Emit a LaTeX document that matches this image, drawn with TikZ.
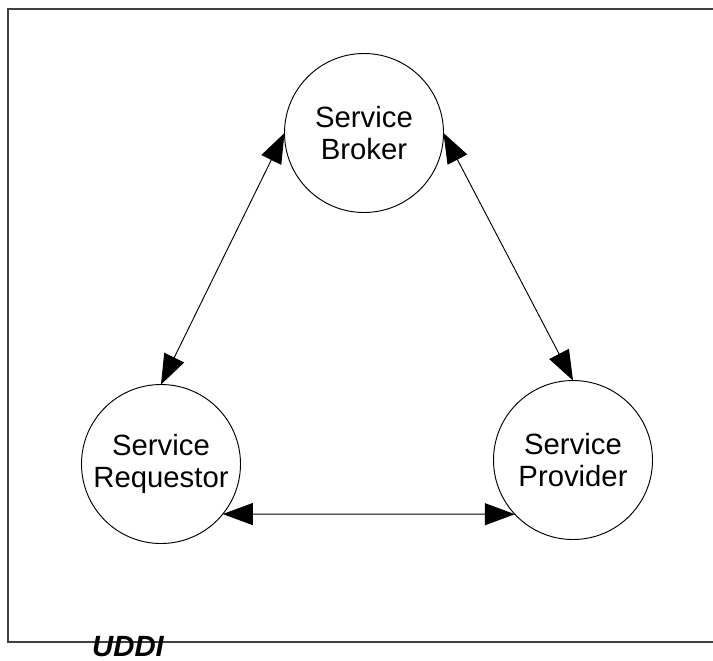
\documentclass[tikz,border=0pt]{standalone}
\usepackage{fontspec}
\setmainfont{Liberation Sans}
\usepackage{tikz}
\usetikzlibrary{arrows.meta,positioning}

\begin{document}
\begin{tikzpicture}[
    x=0.03cm, y=-0.03cm,
    service/.style={circle, draw=black, line width=0.8pt, fill=white, minimum size=4.77cm, inner sep=0pt, outer sep=0pt, align=center, font=\fontsize{25}{27.6}\selectfont},
    dblarrow/.style={{Triangle[length=0.9cm, width=0.66cm]}-{Triangle[length=0.9cm, width=0.66cm]}, line width=0.8pt, black},
    frame/.style={line width=1.3pt, draw=black!75},
    caption/.style={font=\fontsize{25}{28}\selectfont\bfseries\itshape, inner sep=0pt, anchor=base west}
]
    \useasboundingbox (0,0) rectangle (713,660);

    % open frame round the diagram
    \draw[frame] (713,9) -- (8,9) -- (8,642) -- (713,642);

    % the three roles
    \node[service] (broker) at (364,133) {Service\\Broker};
    \node[service] (requestor) at (161,464) {Service\\Requestor};
    \node[service] (provider) at (573,460) {Service\\Provider};

    % interactions
    \draw[dblarrow] (broker.west) -- (requestor.north);
    \draw[dblarrow] (broker.east) -- (provider.north);
    \draw[dblarrow] (requestor.-39) -- (provider.223);

    % caption
    \node[caption] (uddi) at (92,656) {UDDI};
\end{tikzpicture}
\end{document}
